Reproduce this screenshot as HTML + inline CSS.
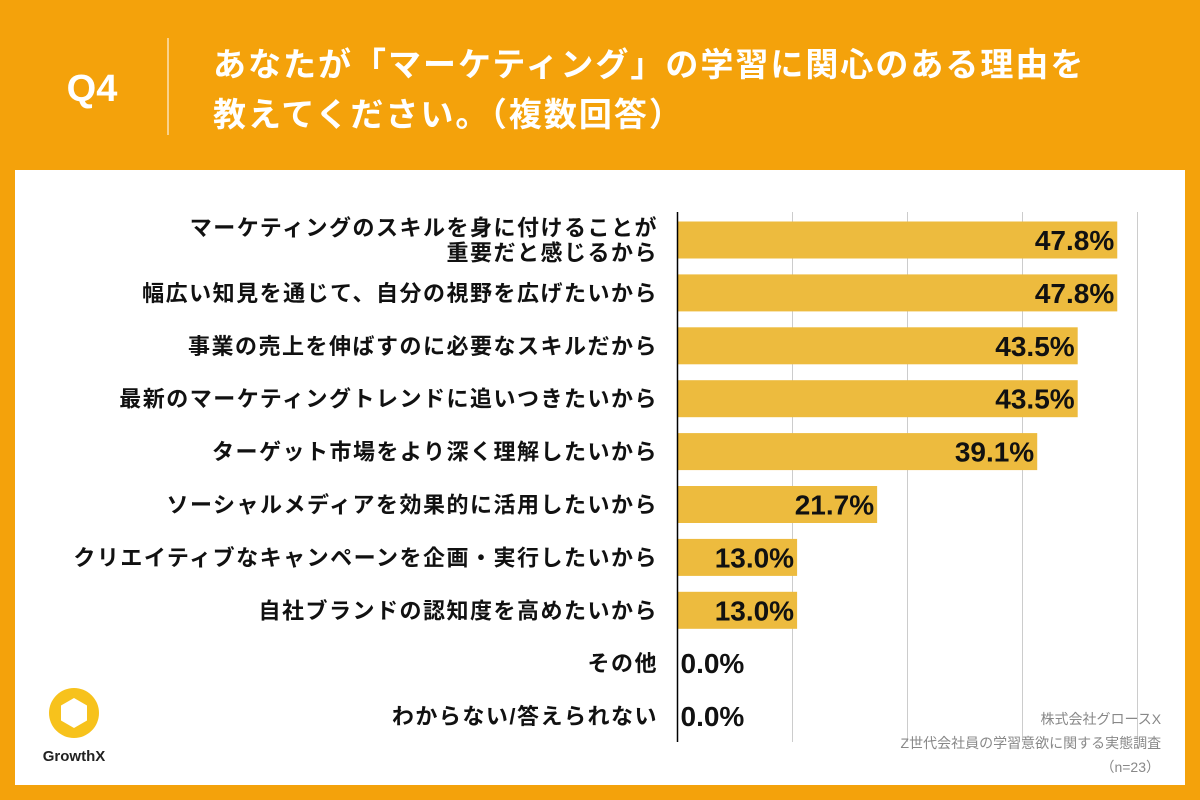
<!DOCTYPE html>
<html><head><meta charset="utf-8"><style>
html,body{margin:0;padding:0;width:1200px;height:800px;overflow:hidden;background:#F4A20B}
svg{display:block;font-family:"Liberation Sans","Noto Sans CJK JP",sans-serif}
</style></head><body>
<svg id="c" width="1200" height="800" viewBox="0 0 1200 800" xmlns="http://www.w3.org/2000/svg">
<rect x="0" y="0" width="1200" height="800" fill="#F4A20B"/>
<text x="92" y="101" text-anchor="middle" fill="#fff" font-size="38" font-weight="bold">Q4</text>
<line x1="168" y1="38" x2="168" y2="135" stroke="#fff" stroke-opacity="0.7" stroke-width="1.5"/>
<text fill="#fff" font-size="33" font-weight="bold" letter-spacing="2">
<tspan x="213" y="76">あなたが「マーケティング」の学習に関心のある理由を</tspan>
<tspan x="213" y="126">教えてください。（複数回答）</tspan></text>
<rect x="15" y="170" width="1170" height="615" fill="#fff"/>
<g id="grid"></g><g id="bars"></g>
<line x1="677.5" y1="212" x2="677.5" y2="742" stroke="#000" stroke-width="1.5"/>
<g>
<circle cx="74" cy="713" r="25" fill="#F7C21C"/>
<polygon points="74,698 87,705.5 87,720.5 74,728 61,720.5 61,705.5" fill="#fff"/>
<text x="74" y="761" text-anchor="middle" font-size="15" font-weight="bold" fill="#222">GrowthX</text>
</g>
<text fill="#888" font-size="14" text-anchor="end">
<tspan x="1165" y="724">株式会社グロースX</tspan>
<tspan x="1165" y="748">Z世代会社員の学習意欲に関する実態調査</tspan>
<tspan x="1160" y="772">（n=23）</tspan></text>
</svg>
<script>
const categories=[["マーケティングのスキルを身に付けることが","重要だと感じるから"],["幅広い知見を通じて、自分の視野を広げたいから"],["事業の売上を伸ばすのに必要なスキルだから"],["最新のマーケティングトレンドに追いつきたいから"],["ターゲット市場をより深く理解したいから"],["ソーシャルメディアを効果的に活用したいから"],["クリエイティブなキャンペーンを企画・実行したいから"],["自社ブランドの認知度を高めたいから"],["その他"],["わからない/答えられない"]];
const values=[47.8,47.8,43.5,43.5,39.1,21.7,13.0,13.0,0.0,0.0];
const gridTicks=[12.5,25,37.5,50];
const NS="http://www.w3.org/2000/svg";
const x0=677.5,pxPer=9.2;
const xs=v=>x0+v*pxPer;
const yc=i=>240+i*52.9;
function mk(t,a,p){const e=document.createElementNS(NS,t);for(const k in a)e.setAttribute(k,a[k]);p.appendChild(e);return e;}
const g=document.getElementById('grid'),b=document.getElementById('bars');
gridTicks.forEach(t=>{
const l=mk('line',{x1:xs(t),x2:xs(t),y1:212,y2:742,stroke:'#ccc','stroke-width':1},g);


});
values.forEach((v,i)=>{
const y=yc(i);
const r=mk('rect',{x:x0,y:y-18.5,width:v*pxPer,height:37,fill:'#EDBB3E'},b);


const vt=mk('text',{x:v>0?xs(v)-3:x0+3,y:y+10,'text-anchor':v>0?'end':'start','font-size':28,'font-weight':'bold',fill:'#111'},b);
vt.textContent=v.toFixed(1)+'%';


const lines=categories[i];
const lt=mk('text',{'text-anchor':'end','font-size':22,'font-weight':'bold',fill:'#111','letter-spacing':1.5},b);


lines.forEach((s,j)=>{const ts=mk('tspan',{x:658,y:y+8+(j-(lines.length-1)/2)*25},lt);ts.textContent=s;});
});
</script>
</body></html>
